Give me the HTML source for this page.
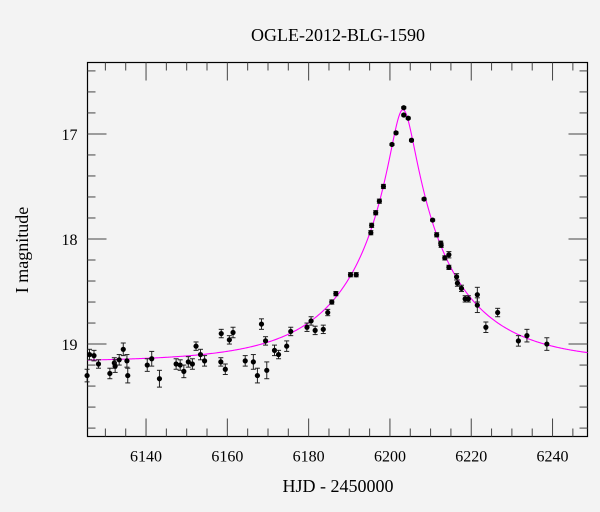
<!DOCTYPE html>
<html><head><meta charset="utf-8">
<style>
html,body{margin:0;padding:0;background:#f3f3f3;}
svg{display:block;font-family:"Liberation Serif","DejaVu Serif",serif;}
</style></head>
<body>
<svg id="chart" width="600" height="512" viewBox="0 0 600 512">
<rect width="600" height="512" fill="#f3f3f3"/>
<text x="338" y="41" text-anchor="middle" font-size="18" fill="#000">OGLE-2012-BLG-1590</text>
<text x="338" y="492" text-anchor="middle" font-size="18" fill="#000">HJD - 2450000</text>
<text transform="translate(28,250) rotate(-90)" text-anchor="middle" font-size="18" fill="#000">I magnitude</text>
<g id="axes"></g>
<g id="model"></g>
<g id="pts"></g>
</svg>
<script>
const times=[6125.5,6126.1,6127.2,6128.3,6131.1,6132.2,6132.4,6133.4,6134.4,6135.3,6135.5,6140.3,6141.4,6143.3,6147.4,6148.4,6149.3,6150.4,6151.4,6152.3,6153.4,6154.4,6158.5,6158.4,6159.5,6160.5,6161.4,6164.4,6166.4,6167.4,6168.4,6169.4,6169.7,6171.6,6172.6,6174.6,6175.6,6179.6,6180.6,6181.6,6183.6,6184.7,6185.7,6186.7,6190.3,6191.7,6195.3,6195.5,6196.5,6197.4,6198.4,6200.5,6201.5,6203.4,6203.4,6204.5,6205.3,6208.4,6210.5,6211.5,6212.5,6212.6,6213.5,6214.5,6214.5,6216.4,6216.6,6217.6,6218.5,6219.3,6221.5,6221.5,6223.6,6226.5,6231.6,6233.7,6238.6];
const mags=[19.30,19.10,19.11,19.19,19.28,19.18,19.21,19.15,19.05,19.16,19.30,19.20,19.14,19.33,19.19,19.20,19.26,19.17,19.19,19.02,19.10,19.16,18.90,19.17,19.24,18.96,18.89,19.16,19.17,19.30,18.81,18.97,19.25,19.06,19.10,19.02,18.88,18.84,18.78,18.87,18.86,18.70,18.60,18.52,18.34,18.34,17.94,17.87,17.75,17.64,17.50,17.10,16.99,16.75,16.82,16.85,17.06,17.62,17.82,17.96,18.04,18.06,18.18,18.15,18.27,18.36,18.42,18.47,18.57,18.57,18.53,18.63,18.84,18.70,18.97,18.92,19.00];
const errs=[0.06,0.05,0.05,0.04,0.05,0.05,0.06,0.05,0.06,0.06,0.07,0.06,0.07,0.08,0.05,0.05,0.06,0.05,0.05,0.04,0.05,0.05,0.04,0.04,0.05,0.04,0.05,0.05,0.07,0.07,0.05,0.04,0.08,0.05,0.04,0.05,0.04,0.04,0.04,0.04,0.04,0.03,0.02,0.02,0.02,0.02,0.02,0.02,0.02,0.02,0.02,0.01,0.01,0.01,0.01,0.01,0.01,0.01,0.01,0.02,0.02,0.02,0.02,0.03,0.02,0.03,0.03,0.03,0.03,0.03,0.07,0.07,0.05,0.04,0.05,0.06,0.06];
const xTickLabels=[6140,6160,6180,6200,6220,6240];
const yTickLabels=[17,18,19];
const modelParams=[6203.2,0.11,25.6,19.17]; // t0,u0,tE,baseline

const NS='http://www.w3.org/2000/svg';
const L=87.5,R=587.5,T=62.5,B=436.5;
const xMin=6125.6,xMax=6248.6,yMin=16.32,yMax=19.88;
const X=t=>L+(t-xMin)/(xMax-xMin)*(R-L);
const Y=m=>T+(m-yMin)/(yMax-yMin)*(B-T);
function mk(tag,attrs,parent){const e=document.createElementNS(NS,tag);for(const k in attrs)e.setAttribute(k,attrs[k]);parent.appendChild(e);return e;}
const axes=document.getElementById('axes');
const frame=mk('rect',{x:L,y:T,width:R-L,height:B-T,fill:'none',stroke:'#000','stroke-width':1.2},axes);


for(let t=6130;t<=6245;t+=5){
  const major=(t%20===0);const len=major?18:8;const x=X(t);
  const a=mk('line',{x1:x,y1:B,x2:x,y2:B-len,stroke:'#444','stroke-width':1},axes);
  
  
  const b=mk('line',{x1:x,y1:T,x2:x,y2:T+len,stroke:'#444','stroke-width':1},axes);
  
  
}
xTickLabels.forEach(v=>{
  const tx=mk('text',{x:X(v),y:B+25,'text-anchor':'middle','font-size':16},axes);
  tx.textContent=v;
  
  
});
for(let i=17;i<=99;i++){
  const m=i/5;if(m<yMin||m>yMax)continue;
  const major=(i%5===0);const len=major?19:8;const y=Y(m);
  const a=mk('line',{x1:L,y1:y,x2:L+len,y2:y,stroke:'#444','stroke-width':1},axes);
  
  
  const b=mk('line',{x1:R,y1:y,x2:R-len,y2:y,stroke:'#444','stroke-width':1},axes);
  
  
}
yTickLabels.forEach(v=>{
  const tx=mk('text',{x:L-10,y:Y(v)+6,'text-anchor':'end','font-size':16},axes);
  tx.textContent=v;
  
  
});
// model curve
const [t0,u0,tE,base]=modelParams;
let d='';
for(let px=L;px<=R;px+=1){
  const t=xMin+(px-L)/(R-L)*(xMax-xMin);
  const u=Math.sqrt(u0*u0+((t-t0)/tE)**2);
  const A=(u*u+2)/(u*Math.sqrt(u*u+4));
  const m=base-2.5*Math.log10(A);
  d+=(d?'L':'M')+px.toFixed(1)+','+Y(m).toFixed(2);
}
const path=mk('path',{d:d,fill:'none',stroke:'#ff00ff','stroke-width':1.1},document.getElementById('model'));


// points
const pts=document.getElementById('pts');
times.forEach((t,i)=>{
  const x=X(t),y=Y(mags[i]),y1=Y(mags[i]-errs[i]),y2=Y(mags[i]+errs[i]);
  const g=mk('g',{},pts);
  
  
  mk('line',{x1:x,y1:y1,x2:x,y2:y2,stroke:'#222','stroke-width':1},g);
  mk('line',{x1:x-2.5,y1:y1,x2:x+2.5,y2:y1,stroke:'#222','stroke-width':1},g);
  mk('line',{x1:x-2.5,y1:y2,x2:x+2.5,y2:y2,stroke:'#222','stroke-width':1},g);
  mk('circle',{cx:x,cy:y,r:2.6,fill:'#000'},g);
});
</script>
</body></html>
